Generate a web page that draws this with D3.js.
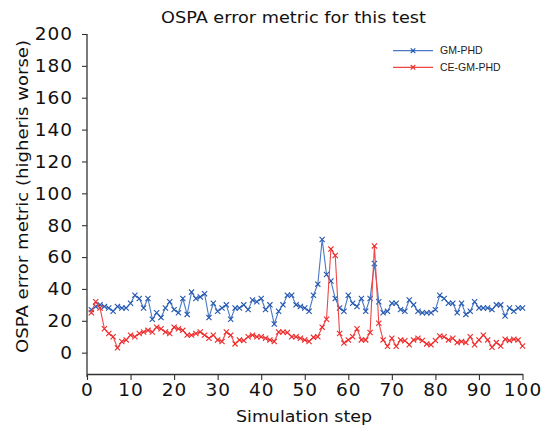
<!DOCTYPE html>
<html>
<head>
<meta charset="utf-8">
<script src="https://cdn.jsdelivr.net/npm/d3@7"></script>
<style>
  html, body { margin: 0; padding: 0; background: #fff; }
  svg { display: block; }
</style>
</head>
<body>
<svg id="chart" width="542" height="427"></svg>
<script>
// ---- data ----
const steps = d3.range(1, 101);
const gmPhd = [27,29,30,29,28,26,29,28,28,31, 36,34,28,34,21,25,22,28,32,27,
  25,34,24,38,34,35,37,22,31,26, 28,30,21,28,28,30,27,33,32,34,
  27,30,18,26,30,36,36,30,29,28, 26,36,43,71,49,45,34,28,26,36,
  31,29,34,26,34,56,32,25,26,31, 31,27,26,33,30,26,25,25,25,27,
  36,34,31,31,25,31,24,26,32,28, 28,28,27,30,30,23,28,26,28,28];
const ceGmPhd = [25,32,28,15,12,10,3,7,8,11, 10,12,13,14,13,16,15,13,12,16,
  15,14,11,11,12,13,11,9,11,8, 7,13,11,5.5,8,7.6,10,11,10,10,
  9,8,7,13,13,12.6,10,10,9,8, 7,9.6,10,16,21,65,61,12,6,8,
  10,15,8,8,12.6,67,18.5,8,4,9, 4,8,7.5,5,8,9,7.6,5.5,5,7.6,
  10.4,10,8,9,6.3,7,6.3,10,5,8, 11,8,3.4,6.3,4.2,8.4,7.6,8.4,8,4.2];
const seriesNames = ["GM-PHD", "CE-GM-PHD"];
const xTicks = d3.range(0, 101, 10);
const yTicks = d3.range(0, 201, 20);
const titleText = "OSPA error metric for this test";
const xLabel = "Simulation step";
const yLabel = "OSPA error metric (higheris worse)";

// ---- setup ----
const colors = ["#2457b0", "#ee2b2b"];
const lineColors = ["#4a78c4", "#f04545"];
const svg = d3.select("#chart");
const x = d3.scaleLinear().domain([0, 100]).range([87, 522.5]);
const y = d3.scaleLinear().domain([-13.4, 200]).range([374, 34]);
const font = "'DejaVu Sans', sans-serif";

// axes
const xAxis = svg.append("g").attr("transform", `translate(0,${y(-13.4)})`)
  .call(d3.axisBottom(x).tickValues(xTicks).tickSize(6).tickPadding(3).tickSizeOuter(0));
const yAxis = svg.append("g").attr("transform", `translate(${x(0)},0)`)
  .call(d3.axisLeft(y).tickValues(yTicks).tickSize(5).tickPadding(9).tickSizeOuter(0));
[xAxis, yAxis].forEach(g => {
  g.select(".domain").attr("stroke", "#333").attr("stroke-width", 1.3);
  g.selectAll(".tick line").attr("stroke", "#333").attr("stroke-width", 1.1);
  g.selectAll(".tick text").attr("font-family", font).attr("font-size", 18.5)
    .attr("fill", "#111").attr("letter-spacing", "1px");
});
// extend y axis slightly below x axis
yAxis.select(".domain").attr("d", `M0,${y(200)}V${y(-13.4) + 3}`);

// series
const allSeries = [gmPhd, ceGmPhd];
const line = d3.line().x((d, i) => x(steps[i])).y(d => y(d));
const xMark = (cx, cy, s) => `M${cx - s},${cy - s}L${cx + s},${cy + s}M${cx - s},${cy + s}L${cx + s},${cy - s}`;

allSeries.forEach((vals, k) => {
  const g = svg.append("g");
  g.append("path").datum(vals).attr("d", line)
    .attr("fill", "none").attr("stroke", lineColors[k]).attr("stroke-width", 1.1);
  g.selectAll("path.m").data(vals).join("path").attr("class", "m")
    .attr("d", (d, i) => xMark(x(steps[i]), y(d), 2.6))
    .attr("stroke", colors[k]).attr("stroke-width", 1.1).attr("fill", "none");
});

// legend
const legend = svg.append("g");
seriesNames.forEach((name, k) => {
  const ly = 50.7 + k * 16.6;
  legend.append("line").attr("x1", 393).attr("x2", 433).attr("y1", ly).attr("y2", ly)
    .attr("stroke", lineColors[k]).attr("stroke-width", 1.2);
  legend.append("path").attr("d", xMark(413, ly, 2.3))
    .attr("stroke", colors[k]).attr("stroke-width", 1.1);
  legend.append("text").attr("x", 440).attr("y", ly + 3.6)
    .attr("font-family", "'Liberation Sans', Arial, sans-serif").attr("font-size", 10.5)
    .attr("fill", "#222").text(name);
});

// title and labels
svg.append("text").attr("x", 293.5).attr("y", 23).attr("text-anchor", "middle")
  .attr("font-family", font).attr("font-size", 16.5).attr("fill", "#111")
  .attr("textLength", 265).attr("lengthAdjust", "spacingAndGlyphs").text(titleText);
svg.append("text").attr("x", 304).attr("y", 421.5).attr("text-anchor", "middle")
  .attr("font-family", font).attr("font-size", 16.5).attr("fill", "#111")
  .attr("textLength", 136).attr("lengthAdjust", "spacingAndGlyphs").text(xLabel);
svg.append("text").attr("transform", "translate(28,196.5) rotate(-90)").attr("text-anchor", "middle")
  .attr("font-family", font).attr("font-size", 16.5).attr("fill", "#111")
  .attr("textLength", 313).attr("lengthAdjust", "spacingAndGlyphs").text(yLabel);
</script>
</body>
</html>
